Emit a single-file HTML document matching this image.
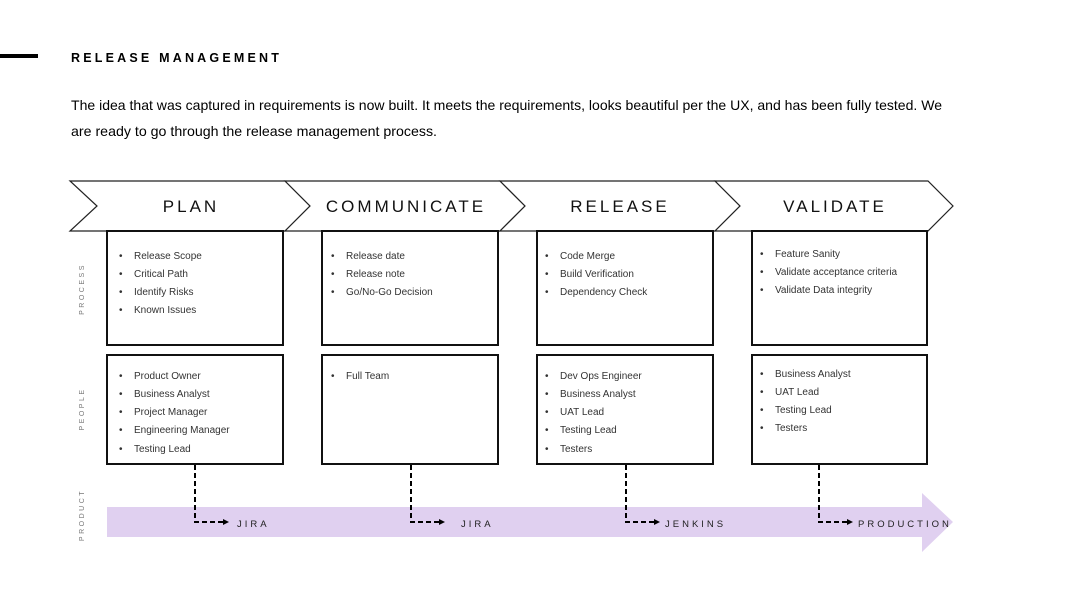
<!DOCTYPE html>
<html><head><meta charset="utf-8"><style>
html,body{margin:0;padding:0;background:#fff;}
svg{display:block;font-family:"Liberation Sans",sans-serif;}
</style></head><body>
<svg width="1080" height="608" viewBox="0 0 1080 608" xmlns="http://www.w3.org/2000/svg">
<rect x="0" y="54" width="38" height="4" fill="#000"/>
<text x="71" y="62" font-size="12.5" font-weight="bold" letter-spacing="3.2" fill="#000">RELEASE MANAGEMENT</text>
<text x="71" y="110" font-size="13.6" fill="#000" textLength="871" lengthAdjust="spacingAndGlyphs">The idea that was captured in requirements is now built. It meets the requirements, looks beautiful per the UX, and has been fully tested. We</text>
<text x="71" y="136" font-size="13.6" fill="#000" textLength="366" lengthAdjust="spacingAndGlyphs">are ready to go through the release management process.</text>

<g fill="#fff" stroke="#222" stroke-width="1.2">
<polygon points="70,181 285,181 310,206 285,231 70,231 97,206"/>
<polygon points="285,181 500,181 525,206 500,231 285,231 310,206"/>
<polygon points="500,181 715,181 740,206 715,231 500,231 525,206"/>
<polygon points="715,181 928,181 953,206 928,231 715,231 740,206"/>
</g>
<g font-size="17" letter-spacing="3" fill="#111" text-anchor="middle">
<text x="191" y="212">PLAN</text>
<text x="406" y="212">COMMUNICATE</text>
<text x="620" y="212">RELEASE</text>
<text x="835" y="212">VALIDATE</text>
</g>

<g fill="#fff" stroke="#111" stroke-width="2">
<rect x="107" y="231" width="176" height="114"/>
<rect x="322" y="231" width="176" height="114"/>
<rect x="537" y="231" width="176" height="114"/>
<rect x="752" y="231" width="175" height="114"/>
<rect x="107" y="355" width="176" height="109"/>
<rect x="322" y="355" width="176" height="109"/>
<rect x="537" y="355" width="176" height="109"/>
<rect x="752" y="355" width="175" height="109"/>
</g>

<g font-size="7" letter-spacing="2.5" fill="#777" text-anchor="middle">
<text transform="translate(84,289) rotate(-90)">PROCESS</text>
<text transform="translate(84,409) rotate(-90)">PEOPLE</text>
<text transform="translate(84,515) rotate(-90)">PRODUCT</text>
</g>

<g font-size="10" fill="#333">
<g transform="translate(0,0)">
<text x="119" y="259">•</text><text x="134" y="259">Release Scope</text>
<text x="119" y="277">•</text><text x="134" y="277">Critical Path</text>
<text x="119" y="295">•</text><text x="134" y="295">Identify Risks</text>
<text x="119" y="313">•</text><text x="134" y="313">Known Issues</text>
<text x="119" y="379">•</text><text x="134" y="379">Product Owner</text>
<text x="119" y="397">•</text><text x="134" y="397">Business Analyst</text>
<text x="119" y="415">•</text><text x="134" y="415">Project Manager</text>
<text x="119" y="433">•</text><text x="134" y="433">Engineering Manager</text>
<text x="119" y="452">•</text><text x="134" y="452">Testing Lead</text>
</g>
<text x="331" y="259">•</text><text x="346" y="259">Release date</text>
<text x="331" y="277">•</text><text x="346" y="277">Release note</text>
<text x="331" y="295">•</text><text x="346" y="295">Go/No-Go Decision</text>
<text x="331" y="379">•</text><text x="346" y="379">Full Team</text>

<text x="545" y="259">•</text><text x="560" y="259">Code Merge</text>
<text x="545" y="277">•</text><text x="560" y="277">Build Verification</text>
<text x="545" y="295">•</text><text x="560" y="295">Dependency Check</text>
<text x="545" y="379">•</text><text x="560" y="379">Dev Ops Engineer</text>
<text x="545" y="397">•</text><text x="560" y="397">Business Analyst</text>
<text x="545" y="415">•</text><text x="560" y="415">UAT Lead</text>
<text x="545" y="433">•</text><text x="560" y="433">Testing Lead</text>
<text x="545" y="452">•</text><text x="560" y="452">Testers</text>

<text x="760" y="257">•</text><text x="775" y="257">Feature Sanity</text>
<text x="760" y="275">•</text><text x="775" y="275">Validate acceptance criteria</text>
<text x="760" y="293">•</text><text x="775" y="293">Validate Data integrity</text>
<text x="760" y="377">•</text><text x="775" y="377">Business Analyst</text>
<text x="760" y="395">•</text><text x="775" y="395">UAT Lead</text>
<text x="760" y="413">•</text><text x="775" y="413">Testing Lead</text>
<text x="760" y="431">•</text><text x="775" y="431">Testers</text>
</g>

<polygon points="107,507 922,507 922,493 953,522 922,552 922,537 107,537" fill="#e0d0f0"/>

<g stroke="#000" stroke-width="2" fill="none" stroke-dasharray="5,3">
<path d="M195,465 V522 H223"/>
<path d="M411,465 V522 H439"/>
<path d="M626,465 V522 H654"/>
<path d="M819,465 V522 H847"/>
</g>
<g fill="#000">
<polygon points="223,519 229,522 223,525"/>
<polygon points="439,519 445,522 439,525"/>
<polygon points="654,519 660,522 654,525"/>
<polygon points="847,519 853,522 847,525"/>
</g>
<g font-size="9.5" letter-spacing="3" fill="#222">
<text x="237" y="527">JIRA</text>
<text x="461" y="527">JIRA</text>
<text x="665" y="527">JENKINS</text>
<text x="858" y="527">PRODUCTION</text>
</g>
</svg>
</body></html>
